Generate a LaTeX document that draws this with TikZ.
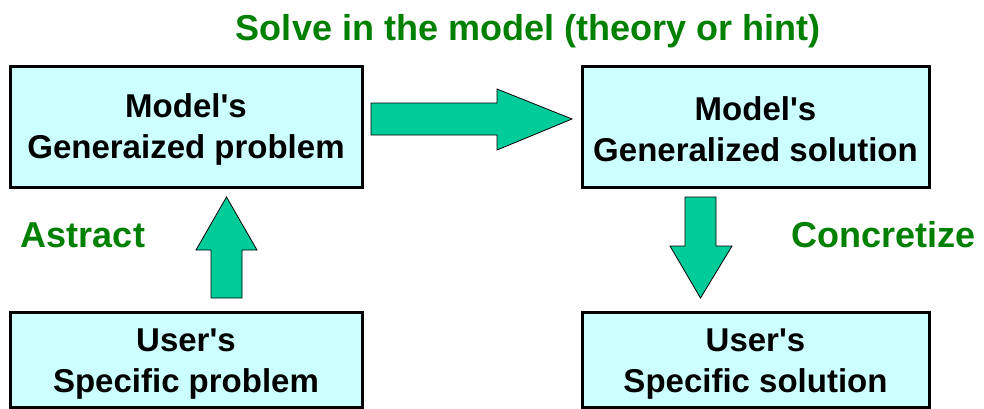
\documentclass[tikz,border=0pt]{standalone}
\usepackage{fontspec}
\newfontfamily\arialfont{Liberation Sans}
\definecolor{boxfill}{HTML}{CCFFFF}
\definecolor{arrowfill}{HTML}{00CC99}
\definecolor{labelgreen}{HTML}{008000}
\begin{document}
\begin{tikzpicture}[x=1pt,y=-1pt,
  box/.style={draw=black,line width=3pt,fill=boxfill,inner sep=0pt,outer sep=0pt},
  boxtext/.style={inner sep=0pt,align=center,font=\arialfont\fontsize{33}{41}\selectfont\bfseries},
  blockarrow/.style={draw=black,line width=0.8pt,fill=arrowfill,line join=miter},
  greenlabel/.style={text=labelgreen,inner sep=0pt,font=\arialfont\fontsize{36}{40}\selectfont\bfseries,anchor=base}]
\useasboundingbox (0,0) rectangle (984,408);
\node[box,minimum width=352pt,minimum height=121pt] (mp) at (186,126.5) {};
\node[box,minimum width=347pt,minimum height=121pt] (ms) at (755.5,126.5) {};
\node[box,minimum width=352pt,minimum height=95pt] (up) at (186,359.5) {};
\node[box,minimum width=347pt,minimum height=95pt] (us) at (755.5,359.5) {};
\node[boxtext] (mpt) at ([yshift=-3pt]mp.center) {Model's\\Generaized problem};
\node[boxtext] (mst) at ([yshift=-3pt]ms.center) {Model's\\Generalized solution};
\node[boxtext] (upt) at ([yshift=-5pt]up.center) {User's\\Specific problem};
\node[boxtext] (ust) at ([yshift=-5pt]us.center) {User's\\Specific solution};
\node[greenlabel] (solve) at (528,40) {Solve in the model (theory or hint)};
\node[greenlabel] (abs) at (83,247) {Astract};
\node[greenlabel] (conc) at (883.5,247) {Concretize};
% right arrow: model problem -> model solution
\draw[blockarrow] (371,103) -- (497,103) -- (497,89) -- (572,119) -- (497,150) -- (497,135) -- (371,135) -- cycle;
% up arrow: user problem -> model problem
\draw[blockarrow] (211,298) -- (211,250) -- (196,250) -- (226.5,197) -- (257,250) -- (242,250) -- (242,298) -- cycle;
% down arrow: model solution -> user solution
\draw[blockarrow] (685,197) -- (716,197) -- (716,246) -- (732,246) -- (700.5,298) -- (670,246) -- (685,246) -- cycle;
\end{tikzpicture}
\end{document}
